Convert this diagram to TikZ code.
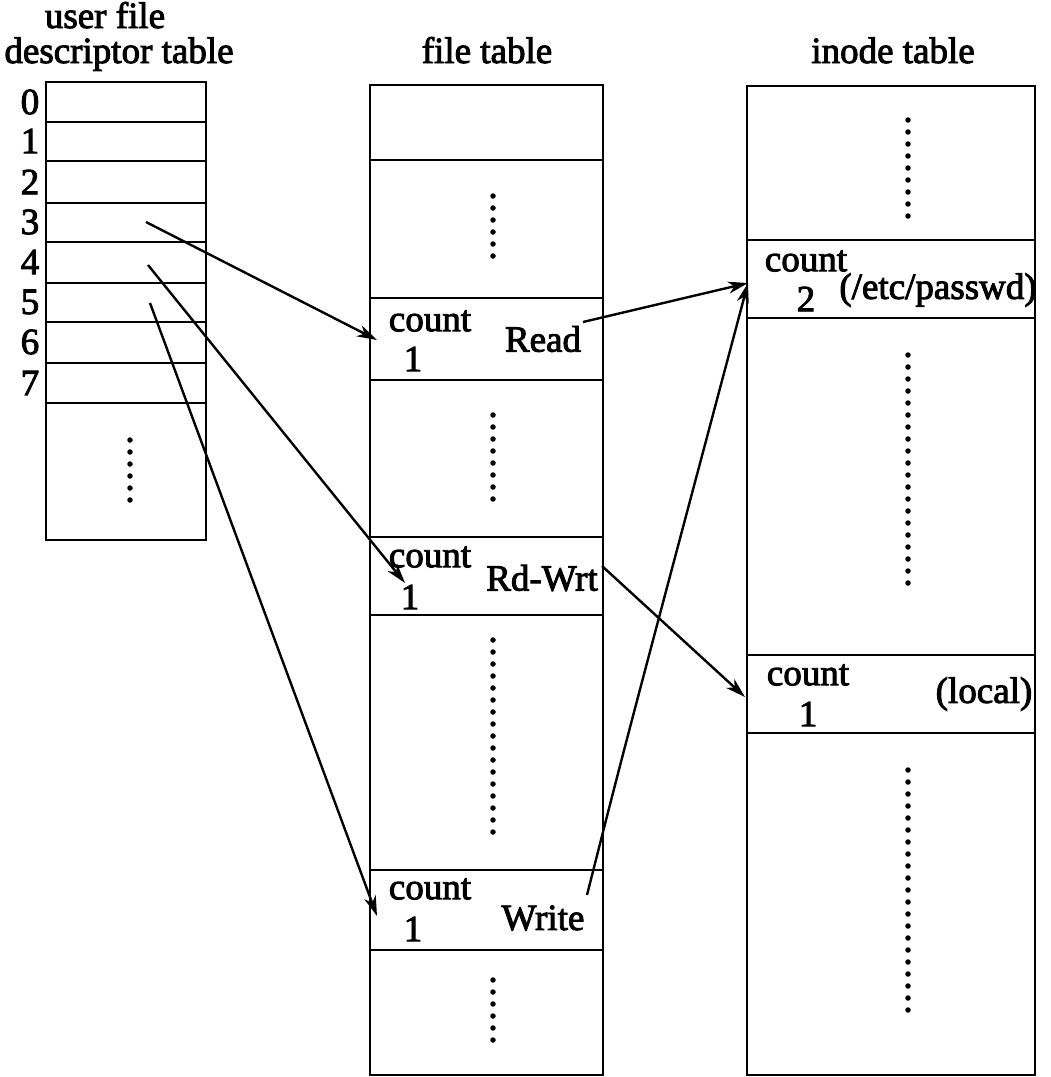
\documentclass[tikz,border=0pt]{standalone}
\usepackage{fontspec}
\setmainfont{Liberation Serif}[FakeBold=2.5]
\usetikzlibrary{arrows.meta}
\begin{document}
\begin{tikzpicture}[x=1pt,y=-1pt, line width=2.8pt,
  txt/.style={font=\fontsize{37}{40}\selectfont, inner sep=0pt},
  dotline/.style={line width=5.5pt, line cap=round, dash pattern=on 0pt off 12pt},
  arr/.style={line width=2.4pt, -{Stealth[length=20pt,width=12pt,inset=6pt]}}]
\useasboundingbox (0,0) rectangle (1051,1077);

% headers
\node[txt, anchor=base] (h1) at (105,28) {user file};
\node[txt, anchor=base] (h2) at (119,63) {descriptor table};
\node[txt, anchor=base] (h3) at (487,63) {file table};
\node[txt, anchor=base] (h4) at (893,63) {inode table};

% user file descriptor table
\draw (46,82) rectangle (206,540);
\foreach \y in {122,161,203,242,283,322,363,403} \draw (46,\y) -- (206,\y);
\foreach \i/\y in {0/102,1/141,2/182,3/222,4/262,5/302,6/342,7/383}
  \node[txt] (d\i) at (30,\y) {\i};
\draw[dotline] (130,440) -- (130,502);

% file table
\draw (370,85) rectangle (603,1075);
\foreach \y in {160,298,380,537,615,870,950} \draw (370,\y) -- (603,\y);
\draw[dotline] (493,196) -- (493,262);
\draw[dotline] (493,415) -- (493,500);
\draw[dotline] (493,640) -- (493,835);
\draw[dotline] (493,980) -- (493,1050);
\node[txt] (c1) at (430,321) {count};
\node[txt] (n1) at (413,359) {1};
\node[txt] (r1) at (543,339) {Read};
\node[txt] (c2) at (430,557) {count};
\node[txt] (n2) at (410,597) {1};
\node[txt] (r2) at (542,578) {Rd-Wrt};
\node[txt] (c3) at (430,889) {count};
\node[txt] (n3) at (413,929) {1};
\node[txt] (r3) at (543,918) {Write};

% inode table
\draw (747,86) rectangle (1035,1075);
\foreach \y in {240,318,655,733} \draw (747,\y) -- (1035,\y);
\draw[dotline] (908,120) -- (908,222);
\draw[dotline] (908,355) -- (908,592);
\draw[dotline] (908,770) -- (908,1015);
\node[txt] (ic1) at (806,261) {count};
\node[txt] (in1) at (806,299) {2};
\node[txt] (ip) at (938,290) {(/etc/passwd)};
\node[txt] (ic2) at (808,675) {count};
\node[txt] (in2) at (808,714) {1};
\node[txt] (il) at (984,694) {(local)};

% connector ends
\coordinate (s3) at (146,222);
\coordinate (s4) at (148,265);
\coordinate (s5) at (150,303);
\coordinate (t1) at (377,340);
\coordinate (t2) at (405,583);
\coordinate (t3) at (377,916);
\coordinate (sr) at (583,322);
\coordinate (srw) at (602,566);
\coordinate (sw) at (587,895);
\coordinate (tp) at (748,283);
\coordinate (tl) at (745,697);

\draw[arr] (s3) -- (t1);
\draw[arr] (s4) -- (t2);
\draw[arr] (s5) -- (t3);
\draw[arr] (sr) -- (tp);
\draw[arr] (srw) -- (tl);
\draw[arr] (sw) .. controls (625,745) .. (tp);
\end{tikzpicture}
\end{document}
